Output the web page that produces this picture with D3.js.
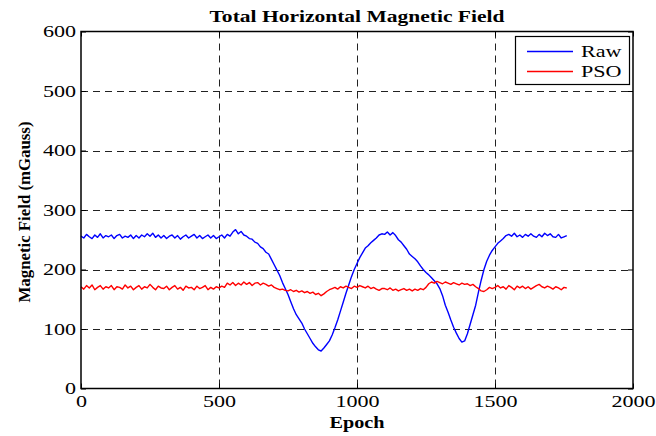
<!DOCTYPE html>
<html>
<head>
<meta charset="utf-8">
<script src="https://cdn.jsdelivr.net/npm/d3@7/dist/d3.min.js"></script>
<style>
  html, body { margin: 0; padding: 0; background: #fff; }
</style>
</head>
<body>
<svg id="chart" width="656" height="436"></svg>
<script>
// Sampled every 10 epochs, starting at epoch 0
const epochStep = 10;

const rawField = [
  256,253,259,255,252,258,254,260,253,257,
  255,258,252,257,259,253,256,254,258,252,
  257,253,258,255,260,256,261,254,258,253,
  257,252,256,258,253,257,251,255,258,253,
  256,259,253,257,252,255,258,253,257,252,
  255,258,253,259,256,263,267,260,264,258,
  256,252,251,246,244,238,235,229,226,217,
  208,199,190,178,168,158,146,134,124,117,
  110,100,92,84,76,70,65,63,68,74,
  80,90,102,115,130,145,160,174,188,200,
  210,220,228,236,240,245,249,253,258,260,
  259,263,258,262,257,250,246,240,234,226,
  222,218,213,206,200,195,191,186,181,176,
  168,156,140,128,115,103,93,84,78,80,
  92,108,124,140,162,182,200,214,224,232,
  238,244,248,252,257,259,256,261,255,258,
  254,259,256,260,256,254,259,255,261,257,
  260,255,254,259,253,255,257
];

const psoField = [
  171,167,173,169,174,166,170,173,167,171,
  169,173,166,171,170,167,174,169,172,166,
  170,173,167,171,169,175,170,166,172,169,
  168,172,166,170,173,167,170,165,172,169,
  170,166,172,168,170,173,166,170,167,171,
  169,172,170,177,174,178,173,177,174,179,
  175,178,173,177,178,174,177,175,172,174,
  170,168,166,167,165,164,166,163,165,162,
  164,161,163,160,162,158,160,156,159,163,
  166,168,170,167,171,169,172,170,168,172,
  170,173,171,169,172,168,170,167,165,168,
  168,166,169,165,167,164,166,168,165,167,
  164,167,165,168,166,170,176,179,177,180,
  178,176,179,177,175,178,176,174,177,175,
  176,173,175,171,168,164,163,166,170,168,
  170,173,169,171,167,173,170,166,172,169,
  172,168,171,167,170,173,175,171,169,172,
  170,167,171,169,166,170,169
];

const xTicks = [0, 500, 1000, 1500, 2000];
const yTicks = [0, 100, 200, 300, 400, 500, 600];
const seriesNames = ["Raw", "PSO"];
const seriesColors = ["#0000ff", "#ff0000"];

const titleText = "Total Horizontal Magnetic Field";
const xLabelText = "Epoch";
const yLabelText = "Magnetic Field (mGauss)";

const serifFont = "Liberation Serif";
// Wide, slightly stretched lettering
const stretch = 1.38;
function widen(sel, factor) {
  sel.each(function () {
    const w = this.getComputedTextLength();
    d3.select(this).attr("textLength", w * factor).attr("lengthAdjust", "spacingAndGlyphs");
  });
}

const svg = d3.select("#chart");
const margin = { left: 81, right: 23, top: 31.5, bottom: 47.5 };
const W = 656, H = 436;
const x = d3.scaleLinear().domain([0, 2000]).range([margin.left, W - margin.right]);
const y = d3.scaleLinear().domain([0, 600]).range([H - margin.bottom, margin.top]);

const x0 = x.range()[0], x1 = x.range()[1];
const y0 = y.range()[0], y1 = y.range()[1];

// Dashed grid
const grid = svg.append("g");
const gridStyle = sel => sel.attr("stroke", "#222").attr("stroke-width", 1)
  .attr("stroke-dasharray", "7,5").attr("fill", "none");
grid.selectAll("line.gx").data(xTicks.slice(1, -1)).join("line").attr("class", "gx")
  .attr("x1", d => Math.round(x(d)) + 0.5).attr("x2", d => Math.round(x(d)) + 0.5)
  .attr("y1", y1).attr("y2", y0).call(gridStyle);
grid.selectAll("line.gy").data(yTicks.slice(1, -1)).join("line").attr("class", "gy")
  .attr("y1", d => Math.round(y(d)) + 0.5).attr("y2", d => Math.round(y(d)) + 0.5)
  .attr("x1", x0).attr("x2", x1).call(gridStyle);

// Series lines
const line = d3.line().x((d, i) => x(i * epochStep)).y(d => y(d));
[rawField, psoField].forEach((vals, k) => {
  svg.append("path").datum(vals)
    .attr("fill", "none")
    .attr("stroke", seriesColors[k])
    .attr("stroke-width", 1.4)
    .attr("stroke-linejoin", "round")
    .attr("d", line);
});

// Axes with inward ticks on all four sides
const tickLen = 5;
const fmt = d3.format("d");
const axBottom = svg.append("g").attr("transform", `translate(0,${y0})`)
  .call(d3.axisBottom(x).tickValues(xTicks).tickFormat(fmt).tickSizeInner(-tickLen).tickSizeOuter(0).tickPadding(7));
const axLeft = svg.append("g").attr("transform", `translate(${x0},0)`)
  .call(d3.axisLeft(y).tickValues(yTicks).tickFormat(fmt).tickSizeInner(-tickLen).tickSizeOuter(0).tickPadding(5));
const axTop = svg.append("g").attr("transform", `translate(0,${y1})`)
  .call(d3.axisTop(x).tickValues(xTicks).tickSizeInner(-tickLen).tickSizeOuter(0).tickFormat(""));
const axRight = svg.append("g").attr("transform", `translate(${x1},0)`)
  .call(d3.axisRight(y).tickValues(yTicks).tickSizeInner(-tickLen).tickSizeOuter(0).tickFormat(""));

[axBottom, axLeft, axTop, axRight].forEach(g => {
  g.attr("font-family", serifFont).attr("font-size", 16);
  g.select(".domain").remove();
  g.selectAll(".tick line").attr("stroke", "#000");
  g.selectAll(".tick text").attr("fill", "#000").call(widen, stretch);
});

// Plot frame
svg.append("rect")
  .attr("x", x0).attr("y", y1).attr("width", x1 - x0).attr("height", y0 - y1)
  .attr("fill", "none").attr("stroke", "#000").attr("stroke-width", 1.5);

// Titles
const cx = (x0 + x1) / 2;
function label(text, size) {
  return svg.append("text")
    .attr("font-family", serifFont).attr("font-weight", "bold").attr("font-size", size)
    .attr("text-anchor", "middle").attr("fill", "#000").text(text);
}
label(titleText, 17).attr("x", cx).attr("y", 22)
  .attr("textLength", 295).attr("lengthAdjust", "spacingAndGlyphs");
label(xLabelText, 17).attr("x", cx).attr("y", 428)
  .attr("textLength", 55).attr("lengthAdjust", "spacingAndGlyphs");
label(yLabelText, 16).attr("transform", `translate(30,${(y0 + y1) / 2 + 2}) rotate(-90)`)
  .attr("textLength", 181).attr("lengthAdjust", "spacingAndGlyphs");

// Legend
const lg = svg.append("g");
lg.append("rect").attr("x", 515.5).attr("y", 36.5).attr("width", 114).attr("height", 48)
  .attr("fill", "#fff").attr("stroke", "#000").attr("stroke-width", 1.2);
seriesNames.forEach((name, k) => {
  const ly = 51.5 + k * 20;
  lg.append("path").attr("d", `M527,${ly}H573`)
    .attr("fill", "none").attr("stroke", seriesColors[k]).attr("stroke-width", 1.5);
  lg.append("text").attr("x", 581).attr("y", ly + 5.5)
    .attr("font-family", serifFont).attr("font-size", 16).attr("fill", "#000")
    .text(name).call(widen, stretch);
});
</script>
</body>
</html>
